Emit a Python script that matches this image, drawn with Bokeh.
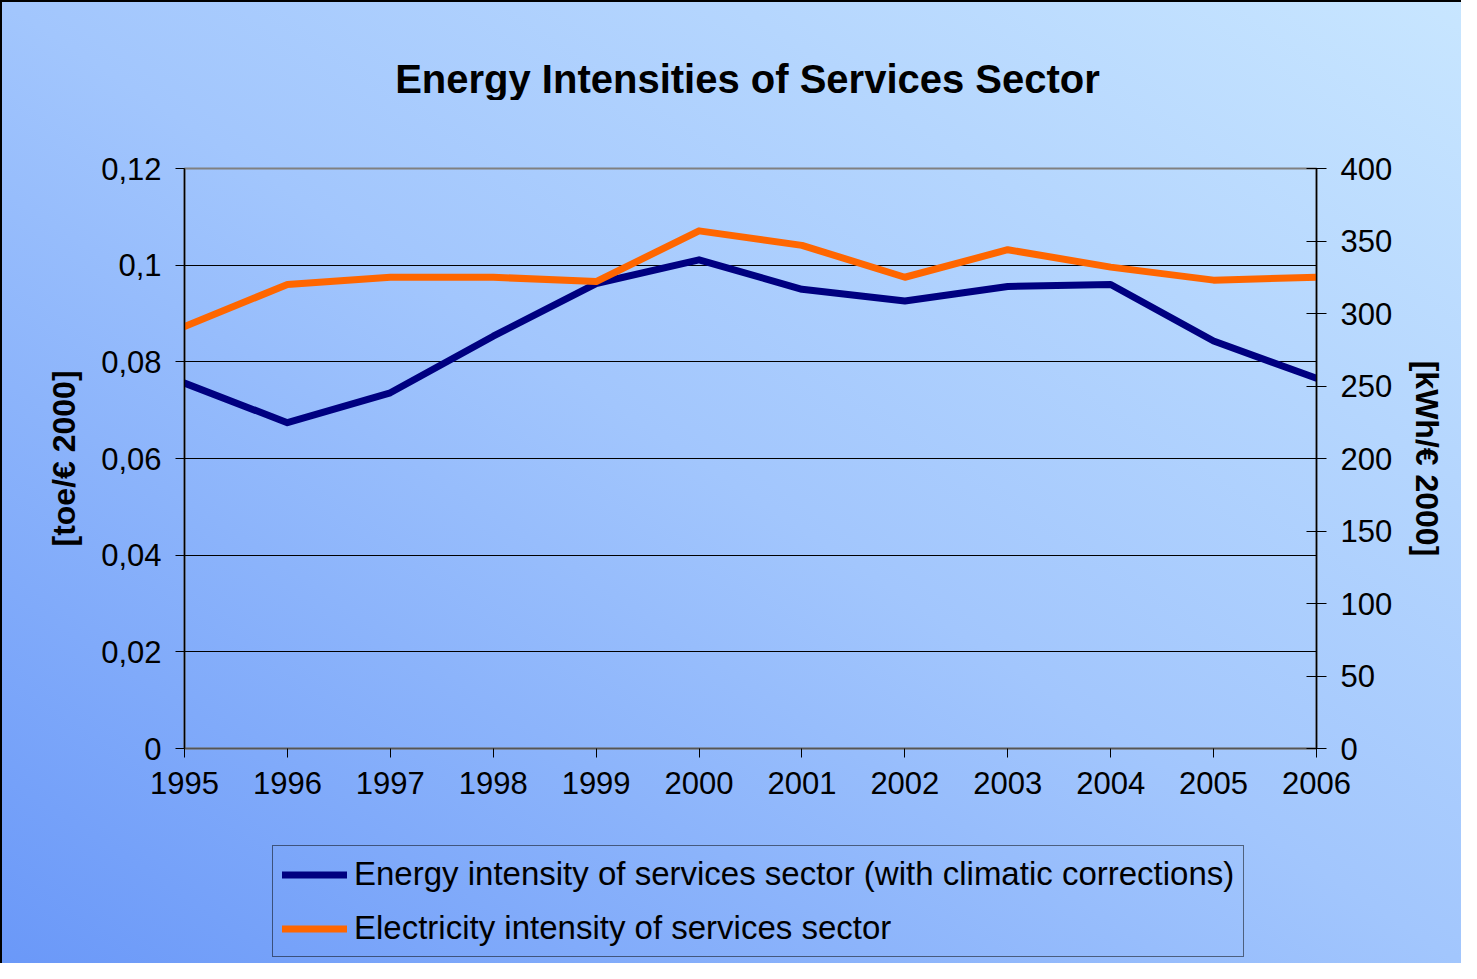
from bokeh.plotting import figure
from bokeh.layouts import column
from bokeh.models import Range1d, LinearAxis, FixedTicker, CustomJSTickFormatter, Legend, LegendItem, Label
from bokeh.embed import file_html
from bokeh.resources import INLINE

years = [1995, 1996, 1997, 1998, 1999, 2000, 2001, 2002, 2003, 2004, 2005, 2006]
energy_intensity = [0.0756, 0.0674, 0.0736, 0.0853, 0.0962, 0.1011, 0.0950, 0.0926, 0.0956, 0.0960, 0.0843, 0.0766]
electricity_intensity = [291, 320, 325, 325, 322, 357, 347, 325, 344, 332, 323, 325]
left_ticks = [0, 0.02, 0.04, 0.06, 0.08, 0.1, 0.12]
right_ticks = [0, 50, 100, 150, 200, 250, 300, 350, 400]
series_names = ["Energy intensity of services sector (with climatic corrections)",
                "Electricity intensity of services sector"]
series_colors = ["#000080", "#ff6600"]
title_text = "Energy Intensities of Services Sector"

FONT = "Liberation Sans"
BLACK = "#000000"
W = 1461
ML, MR = 184, 145


def strip(height):
    f = figure(width=W, height=height, output_backend="svg", toolbar_location=None,
               x_range=Range1d(0, 1), y_range=Range1d(0, 1),
               x_axis_location=None, y_axis_location=None,
               min_border_left=ML, min_border_right=MR, min_border_top=0, min_border_bottom=0)
    f.grid.visible = False
    f.outline_line_color = None
    f.background_fill_alpha = 0
    f.border_fill_alpha = 0
    return f


# ---- title strip
t = strip(100)
t.add_layout(Label(text=title_text, x=563, y=22, x_units="screen", y_units="screen",
                   text_align="center", text_baseline="alphabetic", text_font=FONT,
                   text_font_size="40px", text_font_style="bold", text_color=BLACK))

# ---- main chart
p = figure(width=W, height=720, output_backend="svg", toolbar_location=None,
           x_range=Range1d(1995, 2006), y_range=Range1d(0, 0.12),
           min_border_left=ML, min_border_right=MR, min_border_top=68, min_border_bottom=72)
p.extra_y_ranges = {"elec": Range1d(0, 400)}
xa = p.xaxis[0]
ya = p.yaxis[0]

p.background_fill_alpha = 0
p.border_fill_alpha = 0
p.outline_line_color = "#808080"
p.outline_line_width = 2

# x axis
xa.ticker = FixedTicker(ticks=years)
xa.major_label_text_font = FONT
xa.major_label_text_font_size = "31px"
xa.major_label_text_color = BLACK
xa.axis_line_color = "#555555"
xa.axis_line_width = 1.5
xa.major_tick_line_color = BLACK
xa.major_tick_in = 0
xa.major_tick_out = 9
xa.minor_tick_line_color = None
xa.major_label_standoff = 14

# left y axis
ya.ticker = FixedTicker(ticks=left_ticks)
ya.formatter = CustomJSTickFormatter(code="return tick.toFixed(2).replace(/0+$/,'').replace(/\\.$/,'').replace('.',',');")
ya.axis_label = "[toe/\u20ac 2000]"
ya.axis_label_text_font = FONT
ya.axis_label_text_font_size = "32px"
ya.axis_label_text_font_style = "bold"
ya.axis_label_text_color = BLACK
ya.axis_label_standoff = 16
ya.major_label_text_font = FONT
ya.major_label_text_font_size = "31px"
ya.major_label_text_color = BLACK
ya.axis_line_color = BLACK
ya.axis_line_width = 1.5
ya.major_tick_line_color = BLACK
ya.major_tick_in = 0
ya.major_tick_out = 9
ya.minor_tick_line_color = None
ya.major_label_standoff = 14

# right y axis
ra = LinearAxis(y_range_name="elec", ticker=FixedTicker(ticks=right_ticks))
ra.axis_label = "[kWh/\u20ac 2000]"
ra.axis_label_text_font = FONT
ra.axis_label_text_font_size = "32px"
ra.axis_label_text_font_style = "bold"
ra.axis_label_text_color = BLACK
ra.axis_label_standoff = 14
ra.major_label_text_font = FONT
ra.major_label_text_font_size = "31px"
ra.major_label_text_color = BLACK
ra.axis_line_color = BLACK
ra.axis_line_width = 1.5
ra.major_tick_line_color = BLACK
ra.major_tick_in = 10
ra.major_tick_out = 10
ra.minor_tick_line_color = None
ra.major_label_standoff = 14
p.add_layout(ra, "right")

p.xgrid.grid_line_color = None
p.ygrid.ticker = FixedTicker(ticks=left_ticks[1:-1])
p.ygrid.grid_line_color = BLACK
p.ygrid.grid_line_width = 1

p.line(years, energy_intensity, line_color=series_colors[0], line_width=7,
       line_join="round", line_cap="round")
p.line(years, electricity_intensity, y_range_name="elec", line_color=series_colors[1],
       line_width=7, line_join="round", line_cap="round")

# ---- legend strip (its own copies of the series lie outside its view and only feed the key)
q = strip(143)
keys = [q.line(years, energy_intensity, line_color=series_colors[0], line_width=7, line_cap="round"),
        q.line(years, electricity_intensity, line_color=series_colors[1], line_width=7, line_cap="round")]

legend = Legend(items=[LegendItem(label=n, renderers=[k]) for n, k in zip(series_names, keys)],
                location=(88, 6))
legend.label_text_font = FONT
legend.label_text_font_size = "33px"
legend.label_text_color = BLACK
legend.glyph_width = 65
legend.glyph_height = 37
legend.label_height = 37
legend.label_standoff = 7
legend.padding = 9
legend.spacing = 16
legend.margin = 0
legend.border_line_color = BLACK
legend.border_line_width = 1
legend.background_fill_alpha = 0
q.add_layout(legend, "center")

page = column(t, p, q, spacing=0,
              styles={"background": "linear-gradient(to top right, #6a98f8 0%, #a2c6fd 50%, #c8e6ff 100%)",
                      "box-shadow": "inset 2px 2px 0 0 #000000"})

open("out.html", "w").write(file_html(page, INLINE))
